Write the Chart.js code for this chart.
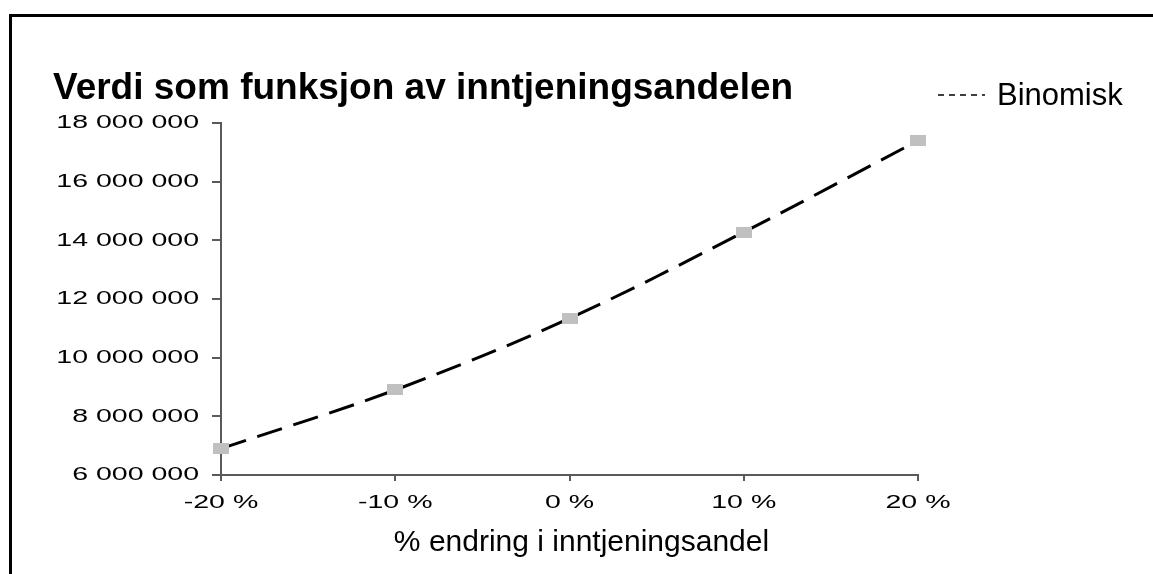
<!DOCTYPE html>
<html>
<head>
<meta charset="utf-8">
<script src="https://cdn.jsdelivr.net/npm/chart.js@4.4.1/dist/chart.umd.min.js"></script>
<style>
  html, body { margin: 0; padding: 0; background: #fff; overflow: hidden; }
  #ramme { position: absolute; left: 9px; top: 14px; width: 2000px; height: 2000px;
           border-left: 3px solid #000; border-top: 3px solid #000; }
  #boks { position: absolute; left: 0; top: 0; width: 1153px; height: 574px; }
</style>
</head>
<body>
<div id="ramme"></div>
<div id="boks"><canvas id="graf"></canvas></div>
<script>
// endring i inntjeningsandel og beregnet verdi (binomisk modell)
const endringer = ['-20 %', '-10 %', '0 %', '10 %', '20 %'];
const verdier = [6900000, 8900000, 11340000, 14280000, 17400000];
const yMin = 6000000, yMaks = 18000000, ySteg = 2000000;
const xTittel = '% endring i inntjeningsandel';

const FONT = 'Arial, "Liberation Sans", sans-serif';

// tusenskille med mellomrom: 18 000 000
function formaterTall(v) {
    return String(v).replace(/\B(?=(\d{3})+(?!\d))/g, ' ');
}

// grå rektangel-markør
const markor = document.createElement('canvas');
markor.width = 16;
markor.height = 11;
const mctx = markor.getContext('2d');
mctx.fillStyle = '#c0c0c0';
mctx.fillRect(0, 0, 16, 11);

// aksetekstene er brede, tegnes strukket horisontalt
const bredeTicks = {
    id: 'bredeTicks',
    afterDraw(chart) {
        const ctx = chart.ctx;
        const x = chart.scales.x, y = chart.scales.y;
        ctx.save();
        ctx.fillStyle = '#000';
        ctx.font = '19px ' + FONT;
        ctx.textBaseline = 'middle';

        ctx.textAlign = 'right';
        y.ticks.forEach((t, i) => {
            ctx.save();
            ctx.translate(y.right - 22, y.getPixelForTick(i));
            ctx.scale(1.5, 1);
            ctx.fillText(formaterTall(t.value), 0, 0);
            ctx.restore();
        });

        ctx.textAlign = 'center';
        x.ticks.forEach((t, i) => {
            ctx.save();
            ctx.translate(x.getPixelForTick(i), x.top + 28);
            ctx.scale(1.5, 1);
            ctx.fillText(endringer[t.value], 0, 0);
            ctx.restore();
        });

        // aksetittel, litt til høyre for midten
        ctx.font = '30px ' + FONT;
        ctx.fillText(xTittel, (x.left + x.right) / 2 + 12, x.top + 68);
        ctx.restore();
    }
};

// forklaring oppe til høyre
const forklaring = {
    id: 'forklaring',
    afterDraw(chart) {
        const ctx = chart.ctx;
        const ds = chart.data.datasets[0];
        ctx.save();
        ctx.strokeStyle = '#000';
        ctx.lineWidth = 1.5;
        ctx.setLineDash([6, 5]);
        ctx.beginPath();
        ctx.moveTo(938, 95);
        ctx.lineTo(985, 95);
        ctx.stroke();
        ctx.setLineDash([]);
        ctx.fillStyle = '#000';
        ctx.font = '31px ' + FONT;
        ctx.textAlign = 'left';
        ctx.textBaseline = 'middle';
        ctx.fillText(ds.label, 997, 96);
        ctx.restore();
    }
};

new Chart(document.getElementById('graf'), {
    type: 'line',
    data: {
        labels: endringer,
        datasets: [{
            label: 'Binomisk',
            data: verdier,
            borderColor: '#000',
            borderWidth: 3,
            borderDash: [26, 12],
            tension: 0.35,
            pointStyle: markor,
            pointRadius: 6,
            clip: false
        }]
    },
    options: {
        responsive: true,
        maintainAspectRatio: false,
        animation: false,
        layout: { padding: { left: 53, right: 235, top: 0, bottom: 0 }, autoPadding: false },
        plugins: {
            legend: { display: false },
            tooltip: { enabled: false },
            title: {
                display: true,
                text: 'Verdi som funksjon av inntjeningsandelen',
                align: 'start',
                color: '#000',
                font: { family: FONT, size: 37, weight: 'bold', lineHeight: 1 },
                padding: { top: 70, bottom: 16 }
            }
        },
        scales: {
            x: {
                offset: false,
                border: { color: '#5a5a5a', width: 2 },
                grid: { drawOnChartArea: false, drawTicks: true, tickLength: 6, color: '#5a5a5a', lineWidth: 2 },
                ticks: { display: false },
                afterFit(s) { s.height = 99; }
            },
            y: {
                min: yMin,
                max: yMaks,
                border: { color: '#5a5a5a', width: 2 },
                grid: { drawOnChartArea: false, drawTicks: true, tickLength: 9, color: '#5a5a5a', lineWidth: 2 },
                ticks: { display: false, stepSize: ySteg },
                afterFit(s) { s.width = 168; }
            }
        }
    },
    plugins: [bredeTicks, forklaring]
});
</script>
</body>
</html>
